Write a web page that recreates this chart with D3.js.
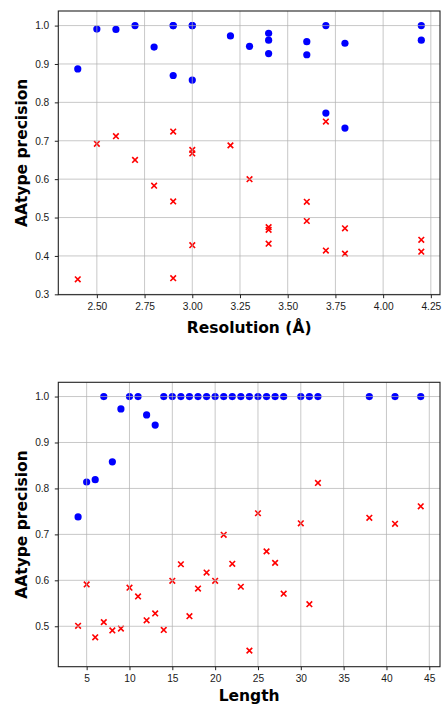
<!DOCTYPE html>
<html>
<head>
<meta charset="utf-8">
<script src="https://cdn.jsdelivr.net/npm/d3@7"></script>
<style>
  body { margin: 0; background: #fff; }
  svg { display: block; font-family: "DejaVu Sans", sans-serif; }
  .tick text { font-size: 10.2px; fill: #1a1a1a; }
  .axis-label { font-size: 15.5px; font-weight: bold; fill: #000; }
</style>
</head>
<body>
<svg width="442" height="704"></svg>
<script>
// top panel: precision vs resolution
const resolution = [2.4, 2.5, 2.6, 2.7, 2.8, 2.9, 2.9, 2.9, 3.0, 3.0, 3.0, 3.2,
                    3.3, 3.4, 3.4, 3.4, 3.6, 3.6, 3.7, 3.7, 3.8, 3.8, 4.2, 4.2];
const resBlue = [0.887, 0.991, 0.990, 1.0, 0.944, 1.0, 1.0, 0.870, 1.0, 1.0, 0.858, 0.973,
                 0.946, 0.980, 0.962, 0.927, 0.958, 0.924, 1.0, 0.772, 0.954, 0.733, 1.0, 0.962];
const resRed = [0.339, 0.692, 0.712, 0.650, 0.583, 0.724, 0.542, 0.342, 0.676, 0.667, 0.428, 0.688,
                0.600, 0.475, 0.468, 0.432, 0.541, 0.491, 0.750, 0.414, 0.472, 0.406, 0.442, 0.411];
const resTicks = [2.5, 2.75, 3.0, 3.25, 3.5, 3.75, 4.0, 4.25];
const resYTicks = [0.3, 0.4, 0.5, 0.6, 0.7, 0.8, 0.9, 1.0];

// bottom panel: precision vs length
const lengths = [4, 5, 6, 7, 8, 9, 10, 11, 12, 13, 14, 15, 16, 17, 18, 19, 20, 21, 22,
                 23, 24, 25, 26, 27, 28, 30, 31, 32, 38, 41, 44];
const lenBlue = [0.738, 0.814, 0.819, 1.0, 0.858, 0.973, 1.0, 1.0, 0.960, 0.938, 1.0, 1.0, 1.0,
                 1.0, 1.0, 1.0, 1.0, 1.0, 1.0, 1.0, 1.0, 1.0, 1.0, 1.0, 1.0, 1.0, 1.0, 1.0, 1.0, 1.0, 1.0];
const lenRed = [0.501, 0.591, 0.476, 0.509, 0.491, 0.495, 0.584, 0.565, 0.513, 0.528, 0.492, 0.599,
                0.635, 0.522, 0.582, 0.617, 0.599, 0.699, 0.636, 0.586, 0.447, 0.746, 0.663, 0.638,
                0.571, 0.724, 0.548, 0.812, 0.736, 0.723, 0.761];
const lenTicks = [5, 10, 15, 20, 25, 30, 35, 40, 45];
const lenYTicks = [0.5, 0.6, 0.7, 0.8, 0.9, 1.0];

const svg = d3.select('svg');

function drawPanel(p) {
    const x = d3.scaleLinear().domain(p.xDomain).range([p.left, p.right]);
    const y = d3.scaleLinear().domain(p.yDomain).range([p.bottom, p.top]);
    const g = svg.append('g');
    const w = p.right - p.left, h = p.bottom - p.top;

    // points: blue circles then red crosses
    g.selectAll('circle').data(p.xs.map((d, i) => [d, p.blue[i]]))
        .enter().append('circle')
        .attr('cx', d => x(d[0]))
        .attr('cy', d => y(d[1]))
        .attr('r', 3.6)
        .attr('fill', '#0000ff');

    const s = 2.8;
    g.selectAll('path.cross').data(p.xs.map((d, i) => [d, p.red[i]]))
        .enter().append('path')
        .attr('class', 'cross')
        .attr('d', `M${-s},${-s}L${s},${s}M${-s},${s}L${s},${-s}`)
        .attr('transform', d => `translate(${x(d[0])},${y(d[1])})`)
        .attr('stroke', '#ff0000')
        .attr('stroke-width', 1.6)
        .attr('fill', 'none');

    // grid over the points
    const grid = g.append('g').attr('stroke', '#b0b0b0').attr('stroke-opacity', 0.7).attr('stroke-width', 1);
    grid.selectAll('line.v').data(p.xTicks).enter().append('line')
        .attr('x1', d => x(d)).attr('x2', d => x(d))
        .attr('y1', p.top).attr('y2', p.bottom);
    grid.selectAll('line.h').data(p.yTicks).enter().append('line')
        .attr('x1', p.left).attr('x2', p.right)
        .attr('y1', d => y(d)).attr('y2', d => y(d));

    // axes
    const xAxis = d3.axisBottom(x).tickValues(p.xTicks).tickFormat(p.xFormat)
        .tickSizeOuter(0).tickSize(3.5).tickPadding(4.5);
    const yAxis = d3.axisLeft(y).tickValues(p.yTicks).tickFormat(d3.format('.1f'))
        .tickSizeOuter(0).tickSize(3.5).tickPadding(5.5);
    g.append('g').attr('transform', `translate(0,${p.bottom})`).call(xAxis)
        .call(a => a.select('.domain').remove())
        .call(a => a.selectAll('.tick text').attr('font-family', null).attr('font-size', null));
    g.append('g').attr('transform', `translate(${p.left},0)`).call(yAxis)
        .call(a => a.select('.domain').remove())
        .call(a => a.selectAll('.tick text').attr('font-family', null).attr('font-size', null));
    g.selectAll('.tick line').attr('stroke', '#222');

    g.append('rect')
        .attr('x', p.left).attr('y', p.top).attr('width', w).attr('height', h)
        .attr('fill', 'none').attr('stroke', '#222').attr('stroke-width', 1.1);

    g.append('text').attr('class', 'axis-label')
        .attr('x', (p.left + p.right) / 2).attr('y', p.xLabelY)
        .attr('text-anchor', 'middle')
        .text(p.xLabel);
    g.append('text').attr('class', 'axis-label')
        .attr('transform', `translate(27,${(p.top + p.bottom) / 2}) rotate(-90)`)
        .attr('text-anchor', 'middle')
        .text('AAtype precision');
}

drawPanel({
    xs: resolution, blue: resBlue, red: resRed,
    xDomain: [2.298, 4.298], yDomain: [0.299, 1.038],
    left: 58.3, right: 440, top: 11, bottom: 294.7,
    xTicks: resTicks, yTicks: resYTicks, xFormat: d3.format('.2f'),
    xLabel: 'Resolution (Å)', xLabelY: 333
});

drawPanel({
    xs: lengths, blue: lenBlue, red: lenRed,
    xDomain: [1.69, 46.25], yDomain: [0.412, 1.031],
    left: 58.3, right: 440, top: 382.3, bottom: 666.7,
    xTicks: lenTicks, yTicks: lenYTicks, xFormat: d3.format('d'),
    xLabel: 'Length', xLabelY: 701
});
</script>
</body>
</html>
